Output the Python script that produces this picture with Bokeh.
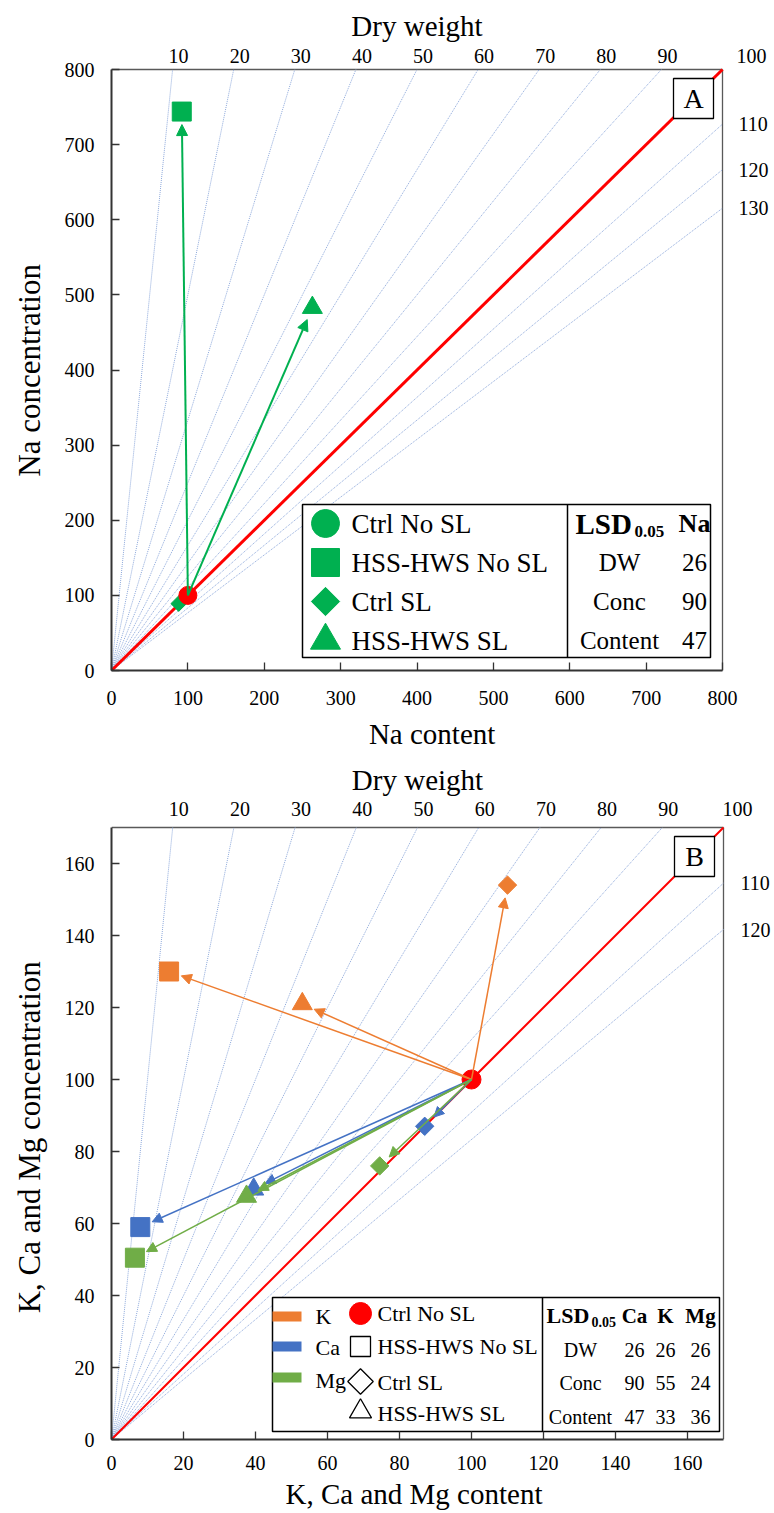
import math
from bokeh.plotting import figure
from bokeh.models import Range1d, Arrow, NormalHead, FixedTicker, ColumnDataSource
from bokeh.layouts import column
from bokeh.core.properties import value
from bokeh.embed import file_html
from bokeh.resources import INLINE

FONT = "Liberation Serif"
NBSP = "\u00a0"

# ---------------- data ----------------
treatments = ["Ctrl No SL", "HSS-HWS No SL", "Ctrl SL", "HSS-HWS SL"]

# Panel A (Na), relative to Ctrl No SL = 100
na_content = [100, 92, 88, 263]
na_conc = [100, 744, 89, 483]

# Panel B (K, Ca, Mg)
k_content = [100, 16, 110, 53]
k_conc = [100, 130, 154, 121]
ca_content = [100, 8, 87, 39.5]
ca_conc = [100, 59, 87, 69.5]
mg_content = [100, 6.5, 74.5, 37.5]
mg_conc = [100, 50.5, 76, 67.5]

# Dry-weight isolines
dw_lines_a = [10, 20, 30, 40, 50, 60, 70, 80, 90, 110, 120, 130]
dw_lines_b = [10, 20, 30, 40, 50, 60, 70, 80, 90, 110, 120]
dw_ref = 100
dw_top_labels = [10, 20, 30, 40, 50, 60, 70, 80, 90, 100]
dw_right_a = [110, 120, 130]
dw_right_b = [110, 120]

ticks_a = [0, 100, 200, 300, 400, 500, 600, 700, 800]
ticks_b = [0, 20, 40, 60, 80, 100, 120, 140, 160]

lsd_rows = ["DW", "Conc", "Content"]
lsd_na = [26, 90, 47]
lsd_ca = [26, 90, 47]
lsd_k = [26, 55, 33]
lsd_mg = [26, 24, 36]

GREEN = "#00B050"
ORANGE = "#ED7D31"
BLUE = "#4472C4"
MGGREEN = "#70AD47"
RED = "#FF0000"
GUIDE = "#8EA9DB"
BOX = "#595959"
PAGE_W = 774


class Frame:
    """Maps page pixels to data units; data origin at page (x0, y0)."""
    def __init__(self, M, x0, y0, kx, ky, fig_top):
        self.M, self.x0, self.y0, self.kx, self.ky, self.fig_top = M, x0, y0, kx, ky, fig_top

    def x(self, px):
        return (px - self.x0) / self.kx

    def y(self, py):
        return (self.y0 - py) / self.ky


def txt(p, x, y, s, size, align="left", bold=False, color="black"):
    p.text(x=[x], y=[y], text=[s], text_font=value(FONT), text_font_size=size,
           text_align=align, text_baseline="middle", text_color=color,
           text_font_style="bold" if bold else "normal")


def base_fig(fr, bottom, ticks, xlabel, ylabel, xpad, ypad, xl_standoff, xal_standoff):
    fw = PAGE_W - fr.x0
    fh = fr.y0 - fr.fig_top
    p = figure(frame_width=fw, frame_height=fh,
               min_border_left=fr.x0, min_border_top=0,
               min_border_right=0, min_border_bottom=bottom,
               x_range=Range1d(0, fw / fr.kx), y_range=Range1d(0, fh / fr.ky),
               output_backend="svg", toolbar_location=None, tools="")
    p.grid.visible = False
    p.background_fill_color = "white"
    p.border_fill_color = "white"
    p.outline_line_color = None
    for ax in (p.xaxis[0], p.yaxis[0]):
        ax.bounds = (0, fr.M)
        ax.ticker = FixedTicker(ticks=ticks)
        ax.major_tick_in = 8
        ax.major_tick_out = 0
        ax.major_tick_line_color = "#333333"
        ax.major_tick_line_width = 1.3
        ax.minor_tick_line_color = None
        ax.axis_line_width = 2
        ax.axis_line_color = "#333333"
        ax.major_label_text_font = FONT
        ax.major_label_text_font_size = "20px"
        ax.major_label_text_color = "black"
        ax.axis_label_text_font = FONT
        ax.axis_label_text_font_style = "normal"
        ax.axis_label_text_color = "black"
    # the frame reaches past the plot box (room for the dry-weight labels), so the
    # centred axis titles are padded with no-break spaces to sit under the box
    p.xaxis[0].axis_label = xlabel + NBSP * xpad
    p.xaxis[0].axis_label_text_font_size = "29px"
    p.xaxis[0].major_label_standoff = xl_standoff
    p.xaxis[0].axis_label_standoff = xal_standoff
    p.yaxis[0].axis_label = ylabel + NBSP * ypad
    p.yaxis[0].axis_label_text_font_size = "31px"
    p.yaxis[0].major_label_standoff = 17
    p.yaxis[0].axis_label_standoff = 15
    # top and right edges of the plot box
    p.segment(x0=[0, fr.M], y0=[fr.M, 0], x1=[fr.M, fr.M], y1=[fr.M, fr.M],
              line_color=BOX, line_width=1.3)
    return p


def guides(p, fr, dws, red_width):
    x1, y1 = [], []
    for d in dws:
        if d <= 100:
            x1.append(fr.M * d / 100.0); y1.append(fr.M)
        else:
            x1.append(fr.M); y1.append(fr.M * 100.0 / d)
    p.segment(x0=[0] * len(dws), y0=[0] * len(dws), x1=x1, y1=y1,
              line_color=GUIDE, line_width=1, line_dash="1 1")
    p.line(x=[0, fr.M], y=[0, fr.M * 100.0 / dw_ref], line_color=RED, line_width=red_width)


def dw_labels(p, fr, right_dws, top_gap, title_gap, right_gap, corner_off):
    for d in dw_top_labels:
        cx = fr.M * d / 100.0
        off = 6 + (corner_off if cx >= fr.M else 0)
        txt(p, cx + off / fr.kx, fr.M + top_gap / fr.ky, str(d), "20px", align="center")
    txt(p, fr.M / 2.0, fr.M + title_gap / fr.ky, "Dry weight", "29px", align="center")
    for d in right_dws:
        txt(p, fr.M + right_gap / fr.kx, fr.M * 100.0 / d, str(d), "20px", align="left")


def add_arrows(p, fr, xs, ys, color, width, head=10, gap=13):
    x0, y0, x1, y1 = [], [], [], []
    sx, sy = xs[0], ys[0]
    for tx, ty in zip(xs[1:], ys[1:]):
        dxp = (tx - sx) * fr.kx
        dyp = (ty - sy) * fr.ky
        L = math.hypot(dxp, dyp)
        if L < 2.5 * gap:
            continue
        f = (L - gap) / L
        x0.append(sx); y0.append(sy)
        x1.append(sx + (tx - sx) * f); y1.append(sy + (ty - sy) * f)
    src = ColumnDataSource(dict(x0=x0, y0=y0, x1=x1, y1=y1))
    p.add_layout(Arrow(end=NormalHead(size=head, fill_color=color, line_color=color, line_width=1),
                       x_start="x0", y_start="y0", x_end="x1", y_end="y1", source=src,
                       line_color=color, line_width=width))


def add_points(p, xs, ys, color, sq, dia, tri):
    p.scatter(x=[xs[1]], y=[ys[1]], marker="square", size=sq, fill_color=color, line_color=color)
    p.scatter(x=[xs[2]], y=[ys[2]], marker="square", angle=math.pi / 4, size=dia,
              fill_color=color, line_color=color)
    p.scatter(x=[xs[3]], y=[ys[3]], marker="triangle", size=tri, fill_color=color, line_color=color)


def letter_box(p, fr, cx, cy, s):
    p.rect(x=[fr.x(cx)], y=[fr.y(cy)], width=40 / fr.kx, height=40 / fr.ky,
           fill_color="white", line_color="black", line_width=1.3)
    txt(p, fr.x(cx), fr.y(cy), s, "28px", align="center")


# ---------------- Panel A ----------------
frA = Frame(M=800, x0=111, y0=670, kx=611 / 800, ky=601 / 800, fig_top=0)
pA = base_fig(frA, 87, ticks_a, "Na content", "Na concentration", 3, 9, 20, 10)
guides(pA, frA, dw_lines_a, 3)
dw_labels(pA, frA, dw_right_a, 14, 44, 16, 23)
add_points(pA, na_content, na_conc, GREEN, 19, 11, 20)
pA.scatter(x=[na_content[0]], y=[na_conc[0]], marker="circle", size=18, fill_color=RED, line_color=RED)
add_arrows(pA, frA, na_content, na_conc, GREEN, 2, head=11)
letter_box(pA, frA, 693, 98, "A")

# legend A
pA.quad(left=[frA.x(302)], right=[frA.x(710)], top=[frA.y(504)], bottom=[frA.y(657)],
        fill_color="white", line_color="black", line_width=1.5)
pA.segment(x0=[frA.x(567)], y0=[frA.y(504)], x1=[frA.x(567)], y1=[frA.y(657)],
           line_color="black", line_width=1.5)
rowsA = [523, 562, 601, 640]
mx = frA.x(325)
pA.scatter(x=[mx], y=[frA.y(rowsA[0])], marker="circle", size=28, fill_color=GREEN, line_color=GREEN)
pA.scatter(x=[mx], y=[frA.y(rowsA[1])], marker="square", size=28, fill_color=GREEN, line_color=GREEN)
pA.scatter(x=[mx], y=[frA.y(rowsA[2])], marker="square", angle=math.pi / 4, size=20,
           fill_color=GREEN, line_color=GREEN)
pA.scatter(x=[mx], y=[frA.y(rowsA[3])], marker="triangle", size=30, fill_color=GREEN, line_color=GREEN)
for i, t in enumerate(treatments):
    txt(pA, frA.x(351), frA.y(rowsA[i]), t, "27px")
txt(pA, frA.x(575), frA.y(523), "LSD", "29px", bold=True)
txt(pA, frA.x(634), frA.y(531), "0.05", "17px", bold=True)
txt(pA, frA.x(694), frA.y(523), "Na", "26px", align="center", bold=True)
for i, r in enumerate(lsd_rows):
    txt(pA, frA.x(619), frA.y(rowsA[i + 1]), r, "25px", align="center")
    txt(pA, frA.x(694), frA.y(rowsA[i + 1]), str(lsd_na[i]), "25px", align="center")

# ---------------- Panel B ----------------
frB = Frame(M=170, x0=111, y0=1439, kx=612 / 170, ky=612 / 170, fig_top=757)
pB = base_fig(frB, 74, ticks_b, "K, Ca and Mg content", "K, Ca and Mg concentration", 8, 10, 16, 5)
guides(pB, frB, dw_lines_b, 2)
dw_labels(pB, frB, dw_right_b, 19, 48, 17, 8)
for xs, ys, c in ((k_content, k_conc, ORANGE), (ca_content, ca_conc, BLUE), (mg_content, mg_conc, MGGREEN)):
    add_points(pB, xs, ys, c, 19, 13, 20)
pB.scatter(x=[k_content[0]], y=[k_conc[0]], marker="circle", size=19, fill_color=RED, line_color=RED)
for xs, ys, c in ((k_content, k_conc, ORANGE), (ca_content, ca_conc, BLUE), (mg_content, mg_conc, MGGREEN)):
    add_arrows(pB, frB, xs, ys, c, 1.5)
letter_box(pB, frB, 694, 856, "B")

# legend B
pB.quad(left=[frB.x(272)], right=[frB.x(719)], top=[frB.y(1297)], bottom=[frB.y(1431)],
        fill_color="white", line_color="black", line_width=1.5)
pB.segment(x0=[frB.x(542)], y0=[frB.y(1297)], x1=[frB.x(542)], y1=[frB.y(1431)],
           line_color="black", line_width=1.5)
elem_names = ["K", "Ca", "Mg"]
elem_colors = [ORANGE, BLUE, MGGREEN]
bar_rows = [1316, 1346, 1377]
name_rows = [1316, 1347, 1380]
for i in range(3):
    pB.segment(x0=[frB.x(272)], y0=[frB.y(bar_rows[i])], x1=[frB.x(301)], y1=[frB.y(bar_rows[i])],
               line_color=elem_colors[i], line_width=10, line_cap="butt")
    txt(pB, frB.x(315), frB.y(name_rows[i]), elem_names[i], "22px")
mrows = [1313, 1346, 1381, 1411]
mxB = frB.x(360)
pB.scatter(x=[mxB], y=[frB.y(mrows[0])], marker="circle", size=22, fill_color=RED, line_color=RED)
pB.scatter(x=[mxB], y=[frB.y(mrows[1])], marker="square", size=20, fill_color="white",
           line_color="black", line_width=1.3)
pB.scatter(x=[mxB], y=[frB.y(mrows[2])], marker="square", angle=math.pi / 4, size=18,
           fill_color="white", line_color="black", line_width=1.3)
pB.scatter(x=[mxB], y=[frB.y(mrows[3])], marker="triangle", size=22, fill_color="white",
           line_color="black", line_width=1.3)
trows = [1313, 1346, 1382, 1413]
for i, t in enumerate(treatments):
    txt(pB, frB.x(377), frB.y(trows[i]), t, "22px")
txt(pB, frB.x(546), frB.y(1315), "LSD", "22px", bold=True)
txt(pB, frB.x(591), frB.y(1321), "0.05", "14px", bold=True)
col_x = [634, 665, 700]
for j, h in enumerate(["Ca", "K", "Mg"]):
    txt(pB, frB.x(col_x[j]), frB.y(1315), h, "21px", align="center", bold=True)
rowsB = [1349, 1382, 1416]
for i, r in enumerate(lsd_rows):
    txt(pB, frB.x(580), frB.y(rowsB[i]), r, "20px", align="center")
    for j, vals in enumerate((lsd_ca, lsd_k, lsd_mg)):
        txt(pB, frB.x(col_x[j]), frB.y(rowsB[i]), str(vals[i]), "20px", align="center")

layout = column(pA, pB)
open("out.html", "w").write(file_html(layout, INLINE))
